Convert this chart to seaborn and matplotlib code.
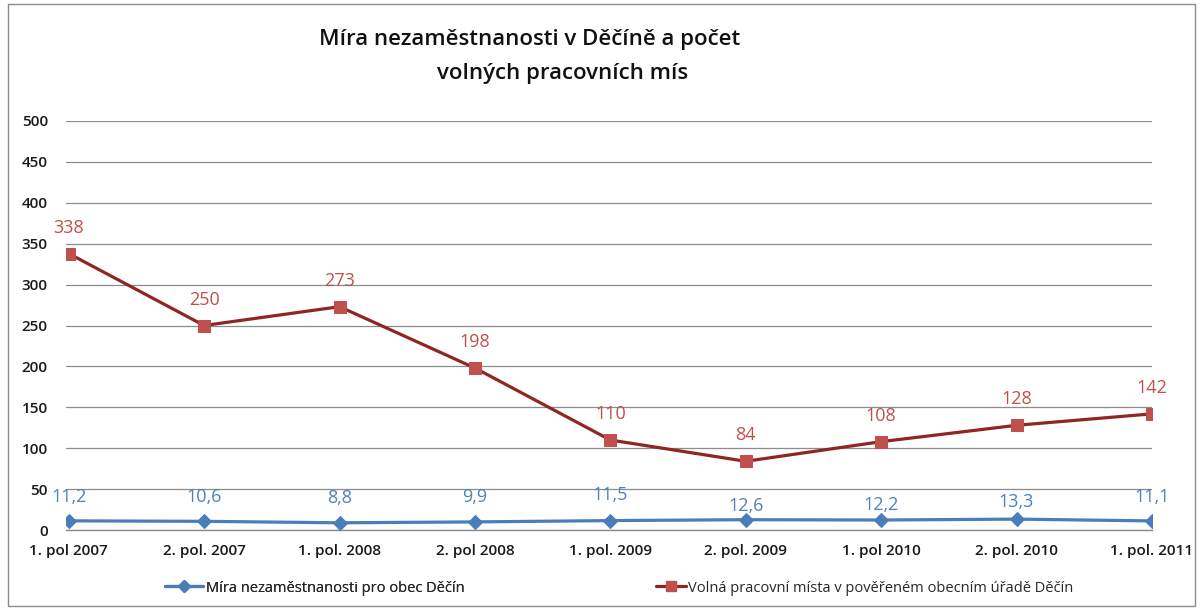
import matplotlib
matplotlib.use("Agg")
import matplotlib.pyplot as plt
from matplotlib.patches import Rectangle
from matplotlib.lines import Line2D
import seaborn as sns
import pandas as pd

categories = ["1. pol 2007", "2. pol. 2007", "1. pol. 2008", "2. pol 2008", "1. pol. 2009",
              "2. pol. 2009", "1. pol 2010", "2. pol. 2010", "1. pol. 2011"]
unemployment = [11.2, 10.6, 8.8, 9.9, 11.5, 12.6, 12.2, 13.3, 11.1]
vacancies = [338, 250, 273, 198, 110, 84, 108, 128, 142]
unemployment_labels = ["11,2", "10,6", "8,8", "9,9", "11,5", "12,6", "12,2", "13,3", "11,1"]
vacancy_labels = ["338", "250", "273", "198", "110", "84", "108", "128", "142"]
name_unemp = "Míra nezaměstnanosti pro obec Děčín"
name_vac = "Volná pracovní místa v pověřeném obecním úřadě Děčín"
title_line1 = "Míra nezaměstnanosti v Děčíně a počet"
title_line2 = "volných pracovních mís"
yticks = [0, 50, 100, 150, 200, 250, 300, 350, 400, 450, 500]

# label placement (style): vertical offsets in points above each marker
unemp_label_offsets = [17, 17.5, 18, 18, 18.5, 9.5, 11, 12.5, 17]
vac_label_offset = 18.7

sns.set_theme(style="white")
plt.rcParams['font.family'] = ['Open Sans', 'DejaVu Sans']

W, H = 1200, 610
fig = plt.figure(figsize=(12, 6.1), dpi=100)
ax = fig.add_axes([66/W, (H-530)/H, (1152-66)/W, (530-121)/H])

df = pd.DataFrame({"x": range(len(categories)), "u": unemployment, "v": vacancies})

sns.lineplot(data=df, x="x", y="v", ax=ax, color="#8E2724", lw=2.3, marker="s",
             markersize=8.5, markerfacecolor="#C0504D", markeredgecolor="#C0504D", zorder=3)
sns.lineplot(data=df, x="x", y="u", ax=ax, color="#4A7EBB", lw=2.3, marker="D",
             markersize=7.5, markerfacecolor="#4A7EBB", markeredgecolor="#4A7EBB", zorder=3)

for i, (v, lab) in enumerate(zip(vacancies, vacancy_labels)):
    ax.annotate(lab, (i, v), xytext=(0, vac_label_offset), textcoords="offset points", ha="center",
                va="center", color="#C0504D", fontsize=13)
for i, (u, lab, off) in enumerate(zip(unemployment, unemployment_labels, unemp_label_offsets)):
    ax.annotate(lab, (i, u), xytext=(0, off), textcoords="offset points", ha="center",
                va="center", color="#4F81BD", fontsize=13)

ax.set_xlim(-0.02, 8)
ax.set_ylim(0, 500)
ax.set_yticks(yticks)
ax.set_yticklabels([str(t) for t in yticks], fontsize=11, color="#1a1a1a", weight="semibold")
ax.set_xticks(range(len(categories)))
ax.set_xticklabels(categories, fontsize=11, color="#1a1a1a", weight="semibold")
ax.tick_params(axis="y", pad=13, length=0)
ax.tick_params(axis="x", pad=10, length=0)
ax.set_xlabel("")
ax.set_ylabel("")
ax.grid(axis="y", color="#8C8C8C", lw=0.9)
ax.grid(axis="x", visible=False)
for s in ["top", "right", "left"]:
    ax.spines[s].set_visible(False)
ax.spines["bottom"].set_color("#8C8C8C")
ax.spines["bottom"].set_linewidth(1.0)
ax.set_axisbelow(True)

fig.text(530/W, 1 - 40/H, title_line1, ha="center", va="center", fontsize=16,
         color="#111111", weight="semibold")
fig.text(563/W, 1 - 73/H, title_line2, ha="center", va="center", fontsize=16,
         color="#111111", weight="semibold")

h1 = Line2D([], [], color="#4A7EBB", lw=2.3, marker="D", markersize=6.5)
h2 = Line2D([], [], color="#8E2724", lw=2.3, marker="s", markersize=7.5,
            markerfacecolor="#C0504D", markeredgecolor="#C0504D")
leg1 = fig.legend([h1], [name_unemp], loc="center", bbox_to_anchor=(315/W, 1 - 588/H),
                  frameon=False, fontsize=10.5, handlelength=2.6, handletextpad=0.2)
leg2 = fig.legend([h2], [name_vac], loc="center", bbox_to_anchor=(865/W, 1 - 588/H),
                  frameon=False, fontsize=10.5, handlelength=2.0, handletextpad=0.2)
fig.add_artist(leg1)

fig.patches.append(Rectangle((8/W, 4/H), 1187/W, 602/H, transform=fig.transFigure,
                             fill=False, edgecolor="#8C8C8C", lw=1))

fig.savefig("out.png", dpi=100)
